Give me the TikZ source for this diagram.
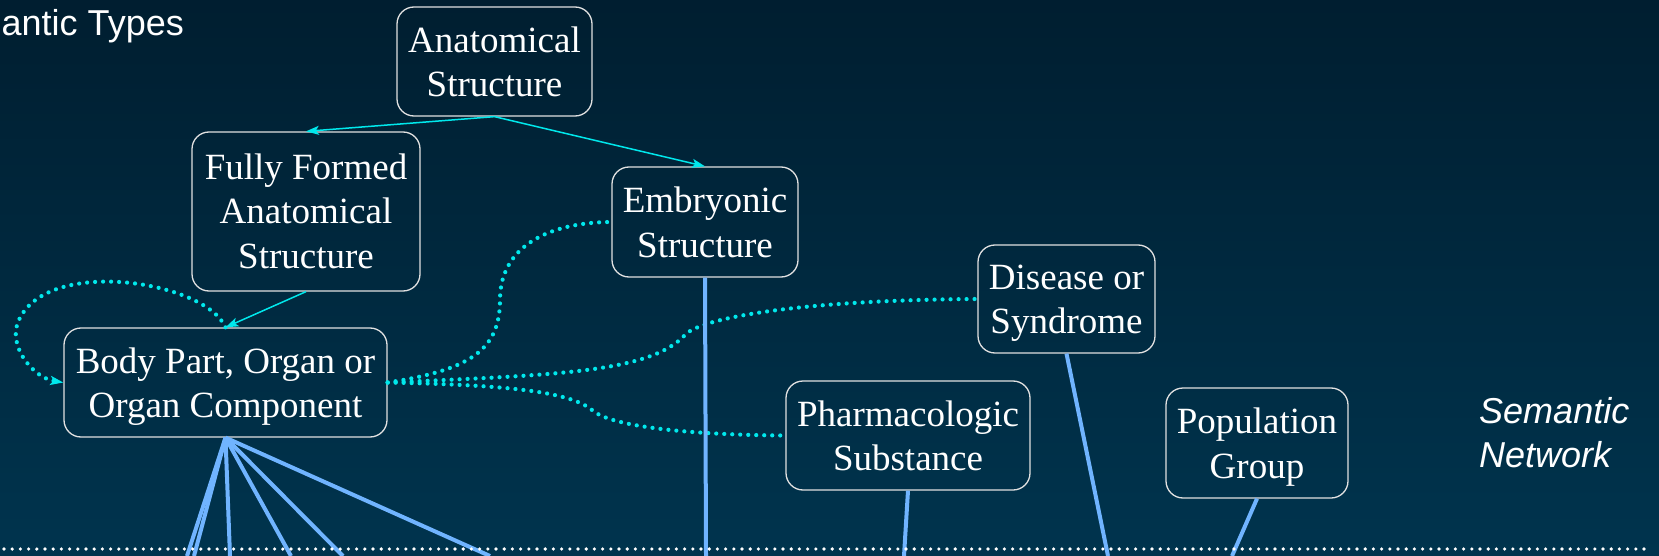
\documentclass[tikz,border=0pt]{standalone}
\usepackage{fontspec}
\setmainfont{Liberation Serif}
\setsansfont{Liberation Sans}
\usepackage{tikz}
\usetikzlibrary{arrows.meta}

\definecolor{bgtop}{RGB}{0,30,48}
\definecolor{bgbottom}{RGB}{0,52,78}
\definecolor{linkblue}{RGB}{112,180,255}
\definecolor{relcyan}{RGB}{0,232,236}
\definecolor{boxline}{RGB}{225,225,225}

\tikzset{
  stype/.style 2 args={draw=boxline, line width=1.3pt, rounded corners=17pt,
    text=white, align=center, inner sep=0pt, minimum width=#1, minimum height=#2,
    text depth=-2.6pt, font=\fontsize{37}{44.5}\selectfont},
  isa/.style={relcyan, line width=1.5pt, -{Stealth[length=13pt,width=9pt,inset=3pt]}},
  rel/.style={relcyan, line width=4.2pt, line cap=round, dash pattern=on 0pt off 8pt},
  mapline/.style={linkblue, line width=4pt},
  sepline/.style={white, line width=3.6pt, line cap=round, dash pattern=on 0pt off 8.2pt},
  heading/.style={text=white, inner sep=0pt, font=\sffamily\fontsize{36}{43}\selectfont},
}

\begin{document}
\begin{tikzpicture}[x=1pt,y=-1pt]
  \shade[top color=bgtop, bottom color=bgbottom] (0,0) rectangle (1659,556);
  \useasboundingbox (0,0) rectangle (1659,556);

  % labels
  \node[heading, anchor=base east] (types) at (184,36) {antic Types};
  \node[heading, anchor=north west, align=left, font=\sffamily\itshape\fontsize{36}{44}\selectfont] (network) at (1479,397) {Semantic\\Network};

  % semantic types
  \node[stype={195pt}{109pt}] (anat) at (494.5,61.5) {Anatomical\\Structure};
  \node[stype={228pt}{159pt}, text depth=1pt] (fully) at (306,211.5) {Fully Formed\\Anatomical\\Structure};
  \node[stype={186pt}{110pt}] (embryo) at (705,222) {Embryonic\\Structure};
  \node[stype={323pt}{109pt}] (bodypart) at (225.5,382.5) {Body Part, Organ or\\Organ Component};
  \node[stype={177pt}{108pt}] (disease) at (1066.5,299) {Disease or\\Syndrome};
  \node[stype={244pt}{109pt}] (pharm) at (908,435.5) {Pharmacologic\\Substance};
  \node[stype={182pt}{110pt}] (popgroup) at (1257,443) {Population\\Group};

  % is-a links
  \draw[isa] (anat.south) -- (fully.north);
  \draw[isa] (anat.south) -- (embryo.north);
  \draw[isa] (fully.south) -- (bodypart.north);

  % other relations
  \draw[rel, -{Stealth[length=13pt,width=9pt,inset=3pt]}] (bodypart.north)
    .. controls (205,280) and (40,255) .. (17,325)
    .. controls (10,350) and (35,378) .. (bodypart.west);
  \draw[rel] (bodypart.east) .. controls (470,370) and (500,350) .. (500,300)
    .. controls (500,240) and (560,222) .. (embryo.west);
  \draw[rel] (bodypart.east) .. controls (560,375) and (650,372) .. (685,335)
    .. controls (700,318) and (800,300) .. (disease.west);
  \draw[rel] (bodypart.east) .. controls (510,385) and (570,392) .. (592,410)
    .. controls (612,428) and (700,435) .. (pharm.west);

  % links down to the concepts
  \foreach \x [count=\i] in {187,194,230,291,343,490} {
    \coordinate (bpend\i) at (\x,556);
    \draw[mapline] (bodypart.south) -- (bpend\i);
  }
  \coordinate (embend) at (706,556);
  \coordinate (pharmend) at (904,556);
  \coordinate (disend) at (1108,556);
  \coordinate (popend) at (1232,556);
  \draw[mapline] (embryo.south) -- (embend);
  \draw[mapline] (pharm.south) -- (pharmend);
  \draw[mapline] (disease.south) -- (disend);
  \draw[mapline] (popgroup.south) -- (popend);

  % separator
  \coordinate (sepleft) at (4,549);
  \coordinate (sepright) at (1645,549);
  \draw[sepline] (sepleft) -- (sepright);
\end{tikzpicture}
\end{document}
